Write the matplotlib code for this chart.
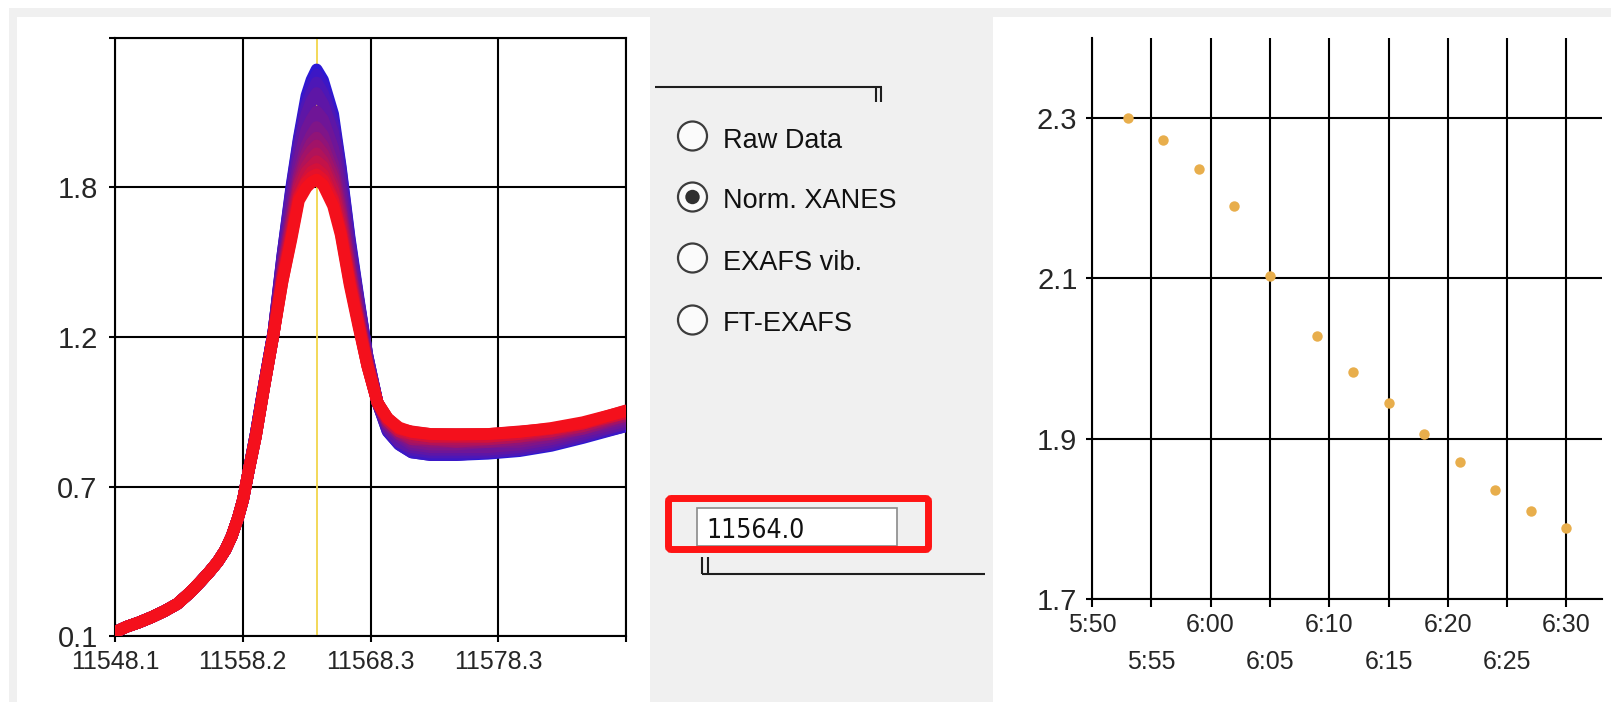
import matplotlib
matplotlib.use("Agg")
import matplotlib.pyplot as plt
from matplotlib.patches import Rectangle, Circle, FancyBboxPatch
from matplotlib.colors import LinearSegmentedColormap
from matplotlib import font_manager
import numpy as np

# ---------------------------------------------------------------- data
# pre-edge part of the energy grid (eV), common to every scan
pre_edge_ev = [11548.1, 11549.0, 11550.0, 11551.0, 11552.0, 11553.0, 11554.0,
               11554.8, 11555.5, 11556.2, 11556.8, 11557.3, 11557.8, 11558.2,
               11558.6]
pre_edge_mu = [0.115, 0.135, 0.152, 0.172, 0.195, 0.222, 0.265,
               0.305, 0.342, 0.383, 0.428, 0.48, 0.55, 0.62,
               0.72]

# edge / white line / post-edge part of the energy grid (eV)
edge_ev = [11559.2, 11559.9, 11560.6, 11561.3, 11562.0, 11562.6, 11563.2,
           11563.6, 11564.0, 11564.5, 11565.3, 11565.9, 11566.6, 11567.3,
           11568.0, 11568.8, 11569.6, 11570.5, 11571.5, 11573.0, 11575.0,
           11577.5, 11580.0, 11582.5, 11585.0, 11588.4]

# normalised absorption of each scan on edge_ev (oldest first)
scan_01 = [0.87, 1.07, 1.26, 1.55, 1.81, 2.00, 2.16, 2.22, 2.26, 2.22, 2.09, 1.89, 1.62,
           1.39, 1.17, 0.99, 0.88, 0.83, 0.80, 0.79, 0.79, 0.795, 0.805, 0.825, 0.855, 0.90]
scan_02 = [0.87, 1.07, 1.26, 1.55, 1.80, 1.99, 2.14, 2.20, 2.24, 2.20, 2.07, 1.88, 1.61,
           1.38, 1.17, 0.99, 0.88, 0.83, 0.80, 0.79, 0.79, 0.80, 0.81, 0.83, 0.86, 0.90]
scan_03 = [0.87, 1.07, 1.26, 1.54, 1.79, 1.97, 2.12, 2.17, 2.21, 2.17, 2.05, 1.86, 1.60,
           1.38, 1.17, 0.99, 0.89, 0.84, 0.81, 0.80, 0.80, 0.80, 0.81, 0.83, 0.86, 0.91]
scan_04 = [0.87, 1.07, 1.26, 1.53, 1.77, 1.95, 2.09, 2.14, 2.17, 2.13, 2.02, 1.83, 1.58,
           1.37, 1.16, 0.99, 0.89, 0.84, 0.82, 0.81, 0.81, 0.81, 0.82, 0.84, 0.87, 0.91]
scan_05 = [0.87, 1.07, 1.26, 1.51, 1.73, 1.91, 2.03, 2.07, 2.10, 2.07, 1.96, 1.79, 1.55,
           1.35, 1.16, 0.99, 0.90, 0.86, 0.83, 0.82, 0.82, 0.82, 0.83, 0.85, 0.88, 0.92]
scan_06 = [0.87, 1.07, 1.26, 1.50, 1.70, 1.87, 1.97, 2.01, 2.04, 2.01, 1.90, 1.75, 1.52,
           1.33, 1.15, 0.99, 0.91, 0.87, 0.84, 0.83, 0.83, 0.84, 0.84, 0.86, 0.89, 0.93]
scan_07 = [0.86, 1.06, 1.25, 1.49, 1.69, 1.85, 1.94, 1.98, 2.00, 1.97, 1.87, 1.73, 1.51,
           1.32, 1.15, 0.99, 0.91, 0.87, 0.85, 0.84, 0.84, 0.84, 0.85, 0.87, 0.89, 0.94]
scan_08 = [0.86, 1.06, 1.25, 1.48, 1.67, 1.83, 1.92, 1.95, 1.97, 1.94, 1.85, 1.71, 1.50,
           1.31, 1.14, 0.99, 0.92, 0.88, 0.85, 0.85, 0.84, 0.85, 0.86, 0.87, 0.90, 0.94]
scan_09 = [0.86, 1.06, 1.25, 1.47, 1.66, 1.82, 1.89, 1.92, 1.94, 1.91, 1.82, 1.69, 1.48,
           1.31, 1.14, 0.99, 0.92, 0.88, 0.86, 0.85, 0.85, 0.85, 0.86, 0.88, 0.90, 0.95]
scan_10 = [0.86, 1.06, 1.25, 1.47, 1.64, 1.80, 1.87, 1.89, 1.91, 1.89, 1.80, 1.67, 1.47,
           1.30, 1.14, 0.99, 0.92, 0.88, 0.87, 0.86, 0.86, 0.86, 0.87, 0.88, 0.91, 0.95]
scan_11 = [0.86, 1.06, 1.25, 1.46, 1.63, 1.78, 1.84, 1.87, 1.88, 1.86, 1.77, 1.65, 1.46,
           1.29, 1.13, 0.99, 0.93, 0.89, 0.87, 0.86, 0.86, 0.86, 0.87, 0.89, 0.91, 0.95]
scan_12 = [0.86, 1.06, 1.25, 1.45, 1.62, 1.77, 1.83, 1.85, 1.86, 1.84, 1.76, 1.64, 1.45,
           1.29, 1.13, 0.99, 0.93, 0.89, 0.88, 0.87, 0.87, 0.87, 0.88, 0.89, 0.91, 0.96]
scan_13 = [0.86, 1.06, 1.25, 1.45, 1.61, 1.76, 1.81, 1.83, 1.84, 1.82, 1.74, 1.63, 1.44,
           1.28, 1.13, 0.99, 0.93, 0.895, 0.878, 0.870, 0.868, 0.870, 0.878, 0.893, 0.915, 0.958]
scans = [scan_01, scan_02, scan_03, scan_04, scan_05, scan_06, scan_07,
         scan_08, scan_09, scan_10, scan_11, scan_12, scan_13]

selected_energy = 11564.0
energy_range = (11548.1, 11588.4)
energy_tick_labels = ["11548.1", "11558.2", "11568.3", "11578.3", ""]
mu_range = (0.1, 2.38)
mu_tick_labels = ["0.1", "0.7", "1.2", "1.8", ""]

# intensity at the selected energy versus acquisition time
scan_times = ["5:53", "5:56", "5:59", "6:02", "6:05", "6:09", "6:12",
              "6:15", "6:18", "6:21", "6:24", "6:27", "6:30"]
peak_mu = [2.300, 2.273, 2.236, 2.190, 2.103, 2.028, 1.983,
           1.944, 1.906, 1.871, 1.836, 1.810, 1.788]
time_range = ("5:50", "6:33")
time_ticks_top = ["5:50", "6:00", "6:10", "6:20", "6:30"]
time_ticks_bottom = ["5:55", "6:05", "6:15", "6:25"]
peak_ticks = [1.7, 1.9, 2.1, 2.3]
peak_range = (1.7, 2.4)

radio_labels = ["Raw Data", "Norm. XANES", "EXAFS vib.", "FT-EXAFS"]
selected_mode = "Norm. XANES"

# ---------------------------------------------------------------- helpers
W, H = 1611, 702
TICK_COLOR = "#262626"


def to_minutes(t):
    h, m = t.split(":")
    return int(h) * 60 + int(m)


def px_rect(x0, y0, x1, y1):
    """Axes rectangle from a pixel box measured from the top-left corner."""
    return [x0 / W, 1 - y1 / H, (x1 - x0) / W, (y1 - y0) / H]


def narrow_font():
    """A condensed sans face for the entry box, if one is installed."""
    for fam, stretch in (("Liberation Sans Narrow", "normal"),
                         ("DejaVu Sans", "condensed")):
        try:
            path = font_manager.findfont(
                font_manager.FontProperties(family=fam, stretch=stretch),
                fallback_to_default=False)
        except Exception:
            continue
        name = path.lower()
        if "narrow" in name or "condensed" in name:
            return font_manager.FontProperties(fname=path)
    return None


BASE_FONT = "Liberation Sans"
plt.rcParams["font.family"] = [BASE_FONT, "DejaVu Sans"]

fig = plt.figure(figsize=(W / 100, H / 100), dpi=100)
fig.patch.set_facecolor("white")

# ---------------------------------------------------------------- window background
bg = fig.add_axes([0, 0, 1, 1])
bg.set_xlim(0, W)
bg.set_ylim(H, 0)
bg.axis("off")
bg.add_patch(Rectangle((9, 8), W - 9, H - 8, facecolor="#f0f0f0", edgecolor="none"))
bg.add_patch(Rectangle((17, 17), 650 - 17, H - 17, facecolor="white", edgecolor="none"))
bg.add_patch(Rectangle((993, 17), W - 993, H - 17, facecolor="white", edgecolor="none"))

line_kw = dict(color="#1e1e1e", lw=1.5, solid_capstyle="butt")
# group frame above the radio buttons
bg.plot([655, 882], [87, 87], **line_kw)
bg.plot([876, 876], [87, 102], **line_kw)
bg.plot([881, 881], [87, 102], **line_kw)

# radio buttons
radio_cx = 692.5
radio_cy = [136, 197, 258, 320]
radio_base = [147.5, 208.5, 270, 331]
for label, cy, base in zip(radio_labels, radio_cy, radio_base):
    bg.add_patch(Circle((radio_cx, cy), 14.5, facecolor="#fbfbfb",
                        edgecolor="#3c3c3c", lw=1.6))
    if label == selected_mode:
        bg.add_patch(Circle((radio_cx, cy), 7.2, facecolor="#303030",
                            edgecolor="none"))
    bg.text(723, base, label, fontsize=19.5, color="#111111",
            ha="left", va="baseline")

# energy entry box
bg.add_patch(Rectangle((697, 508), 200, 38, facecolor="white",
                       edgecolor="#8a8a8a", lw=1.2))
entry_font = narrow_font()
if entry_font is not None:
    entry_font.set_size(19)
    bg.text(706, 538, f"{selected_energy:.1f}", fontproperties=entry_font,
            color="#111111", ha="left", va="baseline")
else:
    bg.text(706, 538, f"{selected_energy:.1f}", fontsize=18, color="#111111",
            ha="left", va="baseline")
bg.add_patch(FancyBboxPatch((668.5, 498.5), 260, 51,
                            boxstyle="round,pad=0,rounding_size=3",
                            fill=False, edgecolor="#ff1414", lw=5))
bg.plot([702, 985], [574, 574], **line_kw)
bg.plot([702, 702], [557, 574], **line_kw)
bg.plot([708, 708], [557, 574], **line_kw)

# ---------------------------------------------------------------- XANES spectra
ax1 = fig.add_axes(px_rect(115, 38, 626, 636))
ax1.set_facecolor("white")
scan_cmap = LinearSegmentedColormap.from_list("scan", ["#2c18d4", "#f4101c"])
n_scans = len(scans)
energy_ev = pre_edge_ev + edge_ev
for i, scan in enumerate(scans):
    ax1.plot(energy_ev, pre_edge_mu + scan, color=scan_cmap(i / (n_scans - 1)),
             lw=8.5, solid_capstyle="round", solid_joinstyle="round",
             zorder=3 + i * 0.01)
ax1.axvline(selected_energy, color="#f2d64b", lw=1.3, zorder=2.5)

ax1.set_xlim(*energy_range)
ax1.set_ylim(*mu_range)
ax1.set_xticks(np.linspace(*energy_range, len(energy_tick_labels)), energy_tick_labels)
ax1.set_yticks(np.linspace(*mu_range, len(mu_tick_labels)), mu_tick_labels)
ax1.grid(True, color="black", lw=1.5)
ax1.set_axisbelow(True)
for sp in ax1.spines.values():
    sp.set_color("black")
    sp.set_linewidth(1.5)
ax1.tick_params(axis="x", direction="out", length=4, width=1.5, pad=6,
                labelsize=18, labelcolor=TICK_COLOR)
ax1.tick_params(axis="y", direction="out", length=4, width=1.5, pad=8.5,
                labelsize=21, labelcolor=TICK_COLOR)

# ---------------------------------------------------------------- peak trend
ax2 = fig.add_axes(px_rect(1092, 38, 1602, 599))
ax2.set_facecolor("white")
ax2.plot([to_minutes(t) for t in scan_times], peak_mu, "o", ms=7.5,
         color="#e8ae4c", mec="none", zorder=3)
ax2.set_xlim(to_minutes(time_range[0]), to_minutes(time_range[1]))
ax2.set_ylim(*peak_range)
ax2.set_xticks([to_minutes(t) for t in time_ticks_top], time_ticks_top)
ax2.set_xticks([to_minutes(t) for t in time_ticks_bottom], time_ticks_bottom, minor=True)
ax2.set_yticks(peak_ticks, [f"{v:.1f}" for v in peak_ticks])
ax2.grid(True, which="both", axis="x", color="black", lw=1.5)
ax2.grid(True, which="major", axis="y", color="black", lw=1.5)
ax2.set_axisbelow(True)
ax2.spines["top"].set_visible(False)
ax2.spines["right"].set_visible(False)
for side in ("left", "bottom"):
    ax2.spines[side].set_color("black")
    ax2.spines[side].set_linewidth(1.5)
ax2.tick_params(axis="x", which="major", direction="out", length=6, width=1.5,
                pad=4, labelsize=18, labelcolor=TICK_COLOR)
ax2.tick_params(axis="x", which="minor", direction="out", length=6, width=1.5,
                pad=31, labelsize=18, labelcolor=TICK_COLOR)
ax2.tick_params(axis="y", direction="out", length=4, width=1.5, pad=6.5,
                labelsize=21, labelcolor=TICK_COLOR)

fig.savefig("out.png", dpi=100, facecolor=fig.get_facecolor())
